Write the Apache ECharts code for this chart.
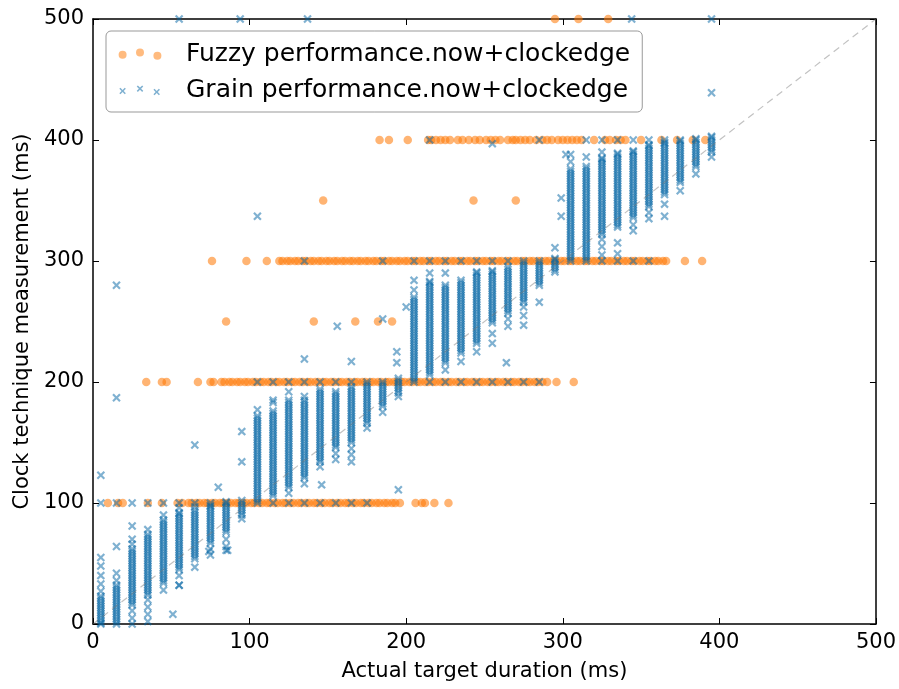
<!DOCTYPE html>
<html>
<head>
<meta charset="utf-8">
<script src="https://cdn.jsdelivr.net/npm/echarts@6/dist/echarts.min.js"></script>
<style>html,body{margin:0;padding:0;background:#fff}#chart{width:899px;height:689px}</style>
</head>
<body>
<div id="chart"></div>
<script>
// ---------------- DATA ----------------
const axisTicks = [0, 100, 200, 300, 400, 500];
const xTitle = 'Actual target duration (ms)';
const yTitle = 'Clock technique measurement (ms)';
const fuzzyName = 'Fuzzy performance.now+clockedge';
const grainName = 'Grain performance.now+clockedge';
const diagonal = [0, 500];

// Grain: target-duration columns and the measurements read in each column
const grainCols = [5,15,25,35,45,55,65,75,85,95,105,115,125,135,145,155,165,175,185,195,205,215,225,235,245,255,265,275,285,295,305,315,325,335,345,355,365,375,385,395];
const grainVals = [
 [0,1,3,5,7,9,11,13,15,17,19,21,23,27,33,40,48,55,100],
 [0,2,4,6,8,10,12,14,16,18,20,22,24,26,28,30,32,36,42,100],
 [0,5,11,16,18,20,22,24,26,28,30,32,34,36,38,40,42,44,46,48,50,52,54,56,58,60,62,66,70,100],
 [2,8,14,20,24,26,28,30,32,34,36,38,40,42,44,46,48,50,52,54,56,58,60,62,64,66,68,70,72,74,78,100],
 [28,34,36,38,40,42,44,46,48,50,52,54,56,58,60,62,64,66,68,70,72,74,76,78,80,82,84,86,90,100],
 [32,40,45,47,49,51,53,55,57,59,61,63,65,67,69,71,73,75,77,79,81,83,85,87,89,91,92,96,100],
 [47,54,56,58,60,62,64,66,68,70,72,74,76,78,80,82,84,86,88,90,92,94,97,100],
 [57,62,67,69,71,73,75,77,79,81,83,85,87,89,91,93,95,97,98,100],
 [61,64,70,76,78,80,82,84,86,88,90,92,94,96,98,100,101],
 [87,90,92,94,96,98,100,102],
 [100,102,104,106,108,110,112,114,116,118,120,122,124,126,128,130,132,134,136,138,140,142,144,146,148,150,152,154,156,158,160,162,164,166,168,170,172,177,200],
 [100,106,108,110,112,114,116,118,120,122,124,126,128,130,132,134,136,138,140,142,144,146,148,150,152,154,156,158,160,162,164,166,168,170,172,174,176,183,200],
 [100,108,113,115,117,119,121,123,125,127,129,131,133,135,137,139,141,143,145,147,149,151,153,155,157,159,161,163,165,167,169,171,173,175,177,179,181,183,185,192,200],
 [100,116,121,123,125,127,129,131,133,135,137,139,141,143,145,147,149,151,153,155,157,159,161,163,165,167,169,171,173,175,177,179,181,183,185,188,200,300],
 [100,130,134,136,138,140,142,144,146,148,150,152,154,156,158,160,162,164,166,168,170,172,174,176,178,180,182,184,186,188,190,192,194,200],
 [100,136,141,146,148,150,152,154,156,158,160,162,164,166,168,170,172,174,176,178,180,182,184,186,188,190,192,200],
 [100,134,140,145,150,152,154,156,158,160,162,164,166,168,170,172,174,176,178,180,182,184,186,188,190,192,194,196,200],
 [100,162,166,168,170,172,174,176,178,180,182,184,186,188,190,192,194,196,198,200],
 [175,180,182,184,186,188,190,192,194,196,198,200,300],
 [188,191,193,195,197,199,201,203],
 [200,202,204,206,208,210,212,214,216,218,220,222,224,226,228,230,232,234,236,238,240,242,244,246,248,250,252,254,256,258,260,262,264,266,268,270,276,284,300],
 [200,206,208,210,212,214,216,218,220,222,224,226,228,230,232,234,236,238,240,242,244,246,248,250,252,254,256,258,260,262,264,266,268,270,272,274,276,278,280,282,283,290,300,400],
 [200,210,216,218,220,222,224,226,228,230,232,234,236,238,240,242,244,246,248,250,252,254,256,258,260,262,264,266,268,270,272,274,276,278,280,290,300],
 [200,217,224,226,228,230,232,234,236,238,240,242,244,246,248,250,252,254,256,258,260,262,264,266,268,270,272,274,276,278,280,282,284,300],
 [200,225,232,234,236,238,240,242,244,246,248,250,252,254,256,258,260,262,264,266,268,270,272,274,276,278,280,282,284,286,288,290,291,300],
 [200,232,240,249,251,253,255,257,259,261,263,265,267,269,271,273,275,277,279,281,283,285,287,289,291,292,300],
 [200,246,252,257,259,261,263,265,267,269,271,273,275,277,279,281,283,285,287,289,291,293,295,300],
 [200,247,255,262,266,268,270,272,274,276,278,280,282,284,286,288,290,292,294,296,298,300],
 [200,280,282,284,286,288,290,292,294,296,298,300,400],
 [291,293,295,297,299,301,302],
 [300,302,304,306,308,310,312,314,316,318,320,322,324,326,328,330,332,334,336,338,340,342,344,346,348,350,352,354,356,358,360,362,364,366,368,370,372,374,376,382,388],
 [300,302,304,306,308,310,312,314,316,318,320,322,324,326,328,330,332,334,336,338,340,342,344,346,348,350,352,354,356,358,360,362,364,366,368,370,372,374,376,378,386,400],
 [300,305,312,318,322,324,326,328,330,332,334,336,338,340,342,344,346,348,350,352,354,356,358,360,362,364,366,368,370,372,374,376,378,380,382,384,385,390,400],
 [300,306,315,328,330,332,334,336,338,340,342,344,346,348,350,352,354,356,358,360,362,364,366,368,370,372,374,376,378,380,382,384,386,388,389,400],
 [300,325,330,336,338,340,342,344,346,348,350,352,354,356,358,360,362,364,366,368,370,372,374,376,378,380,382,384,386,388,390,391,400],
 [300,335,340,345,347,349,351,353,355,357,359,361,363,365,367,369,371,373,375,377,379,381,383,385,387,389,391,393,395,396,400],
 [337,347,355,357,359,361,363,365,367,369,371,373,375,377,379,381,383,385,387,389,391,393,395,397,398,400],
 [358,365,367,369,371,373,375,377,379,381,383,385,387,389,391,393,395,397,399,400],
 [372,378,380,382,384,386,388,390,392,394,396,398,400,401],
 [386,390,392,394,396,398,400,402,403]
];
// Grain: isolated points [x, y]
const grainOutliers = [
 [5,123],[15,64],[15,187],[15,280],[25,81],[51,8],[55,32],[65,148],[80,113],[86,61],[74,60],
 [95,134],[95,159],[105,337],[115,185],[135,219],[146,115],[156,246],[165,217],[185,252],
 [195,111],[194,216],[194,225],[200,262],[255,397],[264,216],[285,266],[295,311],[299,337],
 [299,352],[302,388],[55,500],[94,500],[137,500],[344,500],[395,500],[105,456],[315,450],[395,439]
];

// Fuzzy: x positions of points lying on each measurement level
const fuzzyAt100 = [9.5,16,19,35,44,54,57,61,63,66,68,71,73,76,78,81,83,86,88,91,93,96,98,101,103,106,108,111,113,116,118,121,123,126,128,131,133,136,138,141,143,146,148,151,153,156,158,161,163,166,168,171,173,176,178,181,183,186,188,191,193,196,206,210,212,218,227];
const fuzzyAt200 = [34,44,47,67,75,77,82,84,87,89,92,94,97,99,102,104,107,109,112,114,117,119,122,124,127,129,132,134,137,139,142,144,147,149,152,154,157,159,162,164,167,169,172,174,177,179,182,184,187,189,192,194,197,199,202,204,207,209,212,214,217,219,222,224,227,229,232,234,237,239,242,244,247,249,252,254,257,259,262,264,267,269,272,274,277,279,282,284,287,290,296,307];
const fuzzyAt300 = [76,98,111,119,121,124,126,129,131,134,136,139,141,144,146,149,151,154,156,159,161,164,166,169,171,174,176,179,181,184,186,189,191,194,196,199,201,204,206,209,211,214,216,219,221,224,226,229,231,234,236,239,241,244,246,249,251,254,256,259,261,264,266,269,271,274,276,279,281,284,286,289,291,294,296,299,301,304,306,309,311,314,316,319,321,324,326,329,331,334,336,339,341,344,346,349,351,354,356,359,361,364,366,378,389];
const fuzzyAt400 = [183,189,201,214,216,219,222,225,228,233,236,240,244,247,251,254,257,260,265,268,270,273,276,279,283,287,290,293,297,300,303,306,309,312,320,327,330,334,337,340,350,363,373,383,391];
const fuzzyAt250 = [85,141,167.5,182,191];
const fuzzyAt350 = [147,243,270];
const fuzzyAt500 = [295,310,329];

// ---------------- BUILD ----------------
const grainData = [];
grainCols.forEach((x, i) => grainVals[i].forEach(y => grainData.push([x, y])));
grainOutliers.forEach(p => grainData.push(p));

const fuzzyData = [];
[[100, fuzzyAt100],[200, fuzzyAt200],[300, fuzzyAt300],[400, fuzzyAt400],[250, fuzzyAt250],[350, fuzzyAt350],[500, fuzzyAt500]]
  .forEach(([lvl, xs]) => xs.forEach(x => fuzzyData.push([x, lvl])));

// ---------------- STYLE ----------------
const FONT = 'DejaVu Sans';
const BLUE = '#0064a4', ORANGE = '#ff7700';
const X_SYMBOL = 'path://M0,1.8L1.8,0L5,3.2L8.2,0L10,1.8L6.8,5L10,8.2L8.2,10L5,6.8L1.8,10L0,8.2L3.2,5Z';

function circ(cx, cy, r) {
  return `M${cx - r},${cy}a${r},${r} 0 1,0 ${2 * r},0a${r},${r} 0 1,0 ${-2 * r},0Z`;
}
function cross(cx, cy, s, t) {
  const h = s / 2;
  return `M${cx-h},${cy-h+t}L${cx-h+t},${cy-h}L${cx},${cy-t}L${cx+h-t},${cy-h}L${cx+h},${cy-h+t}L${cx+t},${cy}L${cx+h},${cy+h-t}L${cx+h-t},${cy+h}L${cx},${cy+t}L${cx-h+t},${cy+h}L${cx-h},${cy+h-t}L${cx-t},${cy}Z`;
}
const IW = 63, IH = 16;
const bbox = `M0,0L0.01,0ZM${IW},${IH}L${IW - 0.01},${IH}Z`;
const fuzzyIcon = 'path://' + bbox + circ(4.6, 8.8, 4) + circ(22, 6.5, 4) + circ(39.4, 9.8, 4);
const grainIcon = 'path://' + bbox + cross(4.6, 9, 6.5, 1.1) + cross(22, 6.7, 6.5, 1.1) + cross(38.7, 10, 6.5, 1.1);

const lbl = { color: '#000', fontSize: 21, fontFamily: FONT };
const axLine = { show: true, onZero: false, lineStyle: { color: '#000', width: 1.5 } };
const tick = { show: true, inside: true, length: 6, lineStyle: { color: '#000', width: 1 } };
const iv = axisTicks[1] - axisTicks[0];
const amin = axisTicks[0], amax = axisTicks[axisTicks.length - 1];

const chart = echarts.init(document.getElementById('chart'), null, { renderer: 'canvas' });
chart.setOption({
  animation: false,
  backgroundColor: '#fff',
  grid: { left: 93, top: 19, width: 786, height: 605 },
  xAxis: [
    { type: 'value', min: amin, max: amax, interval: iv, position: 'bottom',
      axisLine: axLine, axisTick: tick, splitLine: { show: false },
      axisLabel: Object.assign({ margin: 8 }, lbl),
      name: xTitle, nameLocation: 'middle', nameGap: 37, nameTextStyle: lbl },
    { type: 'value', min: amin, max: amax, interval: iv, position: 'top',
      axisLine: axLine, axisTick: tick, splitLine: { show: false }, axisLabel: { show: false } }
  ],
  yAxis: [
    { type: 'value', min: amin, max: amax, interval: iv, position: 'left',
      axisLine: axLine, axisTick: tick, splitLine: { show: false },
      axisLabel: Object.assign({ margin: 9 }, lbl),
      name: yTitle, nameLocation: 'middle', nameGap: 54, nameTextStyle: lbl },
    { type: 'value', min: amin, max: amax, interval: iv, position: 'right',
      axisLine: axLine, axisTick: tick, splitLine: { show: false }, axisLabel: { show: false } }
  ],
  legend: {
    orient: 'vertical', left: 106, top: 31,
    padding: [9, 12, 8, 12], itemGap: 8, itemWidth: IW, itemHeight: IH,
    borderColor: '#999', borderWidth: 1, borderRadius: 5, backgroundColor: '#fff',
    textStyle: { color: '#000', fontSize: 25, fontFamily: FONT, lineHeight: 28 },
    data: [
      { name: fuzzyName, icon: fuzzyIcon, itemStyle: { color: ORANGE, opacity: 0.5 } },
      { name: grainName, icon: grainIcon, itemStyle: { color: BLUE, opacity: 0.5 } }
    ]
  },
  series: [
    { name: fuzzyName, type: 'scatter', data: fuzzyData, symbol: 'circle', symbolSize: 8.5,
      itemStyle: { color: ORANGE, opacity: 0.55 }, z: 2 },
    { name: grainName, type: 'scatter', data: grainData, symbol: X_SYMBOL, symbolSize: 8.5,
      itemStyle: { color: BLUE, opacity: 0.5 }, z: 3 },
    { name: 'diag', type: 'line', data: diagonal.map(v => [v, v]), symbol: 'none',
      lineStyle: { color: 'rgba(120,120,120,0.45)', width: 1.2, type: [7, 5] }, z: 4, silent: true }
  ]
});
</script>
</body>
</html>
